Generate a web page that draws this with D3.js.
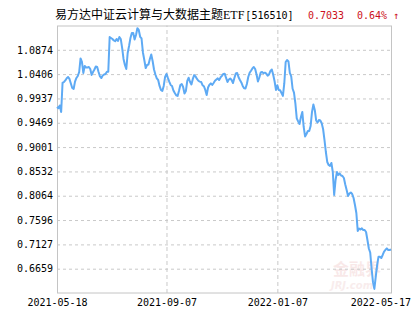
<!DOCTYPE html>
<html>
<head>
<meta charset="utf-8">
<script src="https://cdn.jsdelivr.net/npm/d3@7"></script>
<style>
  html, body { margin: 0; padding: 0; background: #fff; }
  svg { display: block; }
</style>
</head>
<body>
<svg id="chart" width="415" height="330"></svg>
<script>
// ---- data ----
const titleName = "易方达中证云计算与大数据主题";
const titleEtf = "ETF";
const titleCode = "[516510]";
const lastPrice = "0.7033";
const lastChange = "0.64% ↑";

const xTickLabels = ["2021-05-18", "2021-09-07", "2022-01-07", "2022-05-17"];
const xTickIndex = [0, 79, 159, 241];

const yTicks = [0.6659, 0.7127, 0.7596, 0.8064, 0.8532, 0.9001, 0.9469, 0.9937, 1.0406, 1.0874];
const yDomain = [0.6191, 1.1342];

const navValues = [
  0.9773, 0.9748, 0.9802, 0.9677, 1.0236, 1.0255, 1.0284, 1.0326, 1.0351, 1.0313,
  1.0226, 1.0139, 1.0120, 1.0261, 1.0332, 1.0370, 1.0447, 1.0707, 1.0640, 1.0428,
  1.0563, 1.0534, 1.0534, 1.0544, 1.0505, 1.0390, 1.0447, 1.0495, 1.0553, 1.0544,
  1.0447, 1.0361, 1.0332, 1.0380, 1.0399, 1.0409, 1.0453, 1.0453, 1.1121, 1.1102,
  1.1083, 1.1054, 1.1039, 1.1083, 1.1044, 1.1121, 1.1083, 1.0910, 1.0698, 1.0582,
  1.0505, 1.0813, 1.0948, 1.1102, 1.1198, 1.1198, 1.1073, 1.1160, 1.1289, 1.1256,
  1.1125, 1.1092, 1.0823, 1.0678, 1.0524, 1.0582, 1.0592, 1.0698, 1.0784, 1.0659,
  1.0495, 1.0399, 1.0324, 1.0293, 1.0178, 1.0101, 1.0081, 1.0178, 1.0351, 1.0409,
  1.0332, 1.0262, 1.0197, 1.0178, 1.0091, 1.0043, 0.9999, 0.9985, 1.0081, 1.0197,
  1.0216, 1.0158, 1.0033, 1.0081, 1.0274, 1.0336, 1.0255, 1.0207, 1.0313, 1.0386,
  1.0361, 1.0313, 1.0278, 1.0261, 1.0255, 1.0193, 1.0172, 1.0101, 1.0004, 1.0149,
  1.0201, 1.0228, 1.0197, 1.0235, 1.0278, 1.0303, 1.0324, 1.0293, 1.0341, 1.0374,
  1.0409, 1.0415, 1.0332, 1.0255, 1.0303, 1.0322, 1.0293, 1.0235, 1.0332, 1.0418,
  1.0428, 1.0345, 1.0293, 1.0245, 1.0178, 1.0133, 1.0129, 1.0216, 1.0351, 1.0432,
  1.0472, 1.0515, 1.0544, 1.0505, 1.0399, 1.0264, 1.0341, 1.0438, 1.0447, 1.0424,
  1.0434, 1.0415, 1.0376, 1.0399, 1.0467, 1.0494, 1.0395, 1.0268, 1.0101, 1.0191,
  1.0101, 1.0095, 1.0043, 0.9987, 1.0226, 1.0640, 1.0678, 1.0650, 1.0428, 1.0364,
  1.0124, 1.0049, 0.9841, 0.9554, 0.9496, 0.9446, 0.9581, 0.9677, 0.9388, 0.9205,
  0.9253, 0.9311, 0.9311, 0.9407, 0.9677, 0.9821, 0.9715, 0.9513, 0.9475, 0.9523,
  0.9513, 0.9459, 0.9349, 0.9138, 0.8906, 0.8714, 0.8656, 0.8637, 0.8695, 0.8521,
  0.8078, 0.8367, 0.8521, 0.8464, 0.8492, 0.8454, 0.8444, 0.8406, 0.8281, 0.8175,
  0.8059, 0.8107, 0.8127, 0.8098, 0.8021, 0.7886, 0.7732, 0.7385, 0.7433, 0.7414,
  0.7437, 0.7404, 0.7404, 0.7366, 0.7212, 0.7048, 0.6971, 0.6663, 0.6400, 0.6270,
  0.6505, 0.6730, 0.6890, 0.6890, 0.6865, 0.6923, 0.6990, 0.7023, 0.7050, 0.7019,
  0.7019, 0.7033
];

// ---- layout ----
const plot = { left: 57, right: 392, top: 25.5, bottom: 293 };
const svg = d3.select("#chart");
const monoFont = "'DejaVu Sans Mono', 'Liberation Mono', monospace";

const x = d3.scaleLinear()
  .domain([0, navValues.length - 1])
  .range([plot.left, plot.right - 1]);
const y = d3.scaleLinear()
  .domain(yDomain)
  .range([plot.bottom, plot.top]);

// watermark
const wm = svg.append("g").attr("opacity", 0.55);
wm.append("text").attr("x", 357).attr("y", 275).attr("text-anchor", "middle")
  .attr("font-family", "'Noto Sans CJK SC'").attr("font-size", 16).attr("font-weight", "bold")
  .attr("fill", "#f4d7d7").text("金融界");
wm.append("text").attr("x", 352).attr("y", 289).attr("text-anchor", "middle")
  .attr("font-family", "'DejaVu Sans'").attr("font-size", 10).attr("font-style", "italic")
  .attr("font-weight", "bold").attr("fill", "#f4dede").text("JRJ.com");

// y axis with horizontal grid
const yAxis = d3.axisLeft(y)
  .tickValues(yTicks)
  .tickFormat(d3.format(".4f"))
  .tickSizeInner(-(plot.right - plot.left))
  .tickSizeOuter(0)
  .tickPadding(4);
const gy = svg.append("g")
  .attr("transform", `translate(${plot.left},0)`)
  .call(yAxis);
gy.select(".domain").remove();
gy.selectAll(".tick line")
  .attr("stroke", "#c9c9c9")
  .attr("stroke-dasharray", "3,3");
gy.selectAll(".tick text")
  .attr("font-family", monoFont)
  .attr("font-size", 10)
  .attr("fill", "#000");

// x axis with vertical grid
const xAxis = d3.axisBottom(x)
  .tickValues(xTickIndex)
  .tickFormat((d, i) => xTickLabels[i])
  .tickSizeInner(-(plot.bottom - plot.top))
  .tickSizeOuter(0)
  .tickPadding(6);
const gx = svg.append("g")
  .attr("transform", `translate(0,${plot.bottom})`)
  .call(xAxis);
gx.select(".domain").remove();
gx.selectAll(".tick line")
  .attr("stroke", "#c9c9c9")
  .attr("stroke-dasharray", "4,3")
  .attr("opacity", (d, i) => (i === 0 || i === xTickIndex.length - 1) ? 0 : 1);
gx.selectAll(".tick text")
  .attr("font-family", monoFont)
  .attr("font-size", 10)
  .attr("fill", "#000");
// keep the last label inside the window
gx.selectAll(".tick text").each(function () {
  const bb = this.getBBox();
  const tr = this.parentNode.transform.baseVal.consolidate();
  const tx = tr ? tr.matrix.e : 0;
  const right = tx + bb.x + bb.width;
  if (right > 411) d3.select(this).attr("dx", 411 - right);
});

// frame
svg.append("rect")
  .attr("x", plot.left + 0.5).attr("y", plot.top + 0.5)
  .attr("width", plot.right - plot.left - 1).attr("height", plot.bottom - plot.top - 0.5)
  .attr("fill", "none").attr("stroke", "#c4c4c4");

// line
const line = d3.line()
  .x((d, i) => x(i))
  .y(d => y(d));
svg.append("path")
  .datum(navValues)
  .attr("d", line)
  .attr("fill", "none")
  .attr("stroke", "#5eaaf4")
  .attr("stroke-width", 2)
  .attr("stroke-linejoin", "round");

// title (each part placed explicitly)
const tName = svg.append("text").attr("x", 55).attr("y", 19).attr("fill", "#000")
  .attr("font-family", "'Noto Sans CJK SC'").attr("font-size", 12).text(titleName);
const nameEnd = 55 + tName.node().getComputedTextLength();
const tEtf = svg.append("text").attr("x", nameEnd).attr("y", 19).attr("fill", "#000")
  .attr("font-family", "'Liberation Serif'").attr("font-size", 12).text(titleEtf);
const etfEnd = nameEnd + tEtf.node().getComputedTextLength();
svg.append("text").attr("x", etfEnd + 1).attr("y", 19).attr("fill", "#000")
  .attr("font-family", monoFont).attr("font-size", 10).text(titleCode);

svg.append("text").attr("x", 308).attr("y", 19)
  .attr("font-family", monoFont).attr("font-size", 10).attr("fill", "#cc1020")
  .text(lastPrice);
svg.append("text").attr("x", 357).attr("y", 19)
  .attr("font-family", monoFont).attr("font-size", 10).attr("fill", "#cc1020")
  .text(lastChange);
</script>
</body>
</html>
